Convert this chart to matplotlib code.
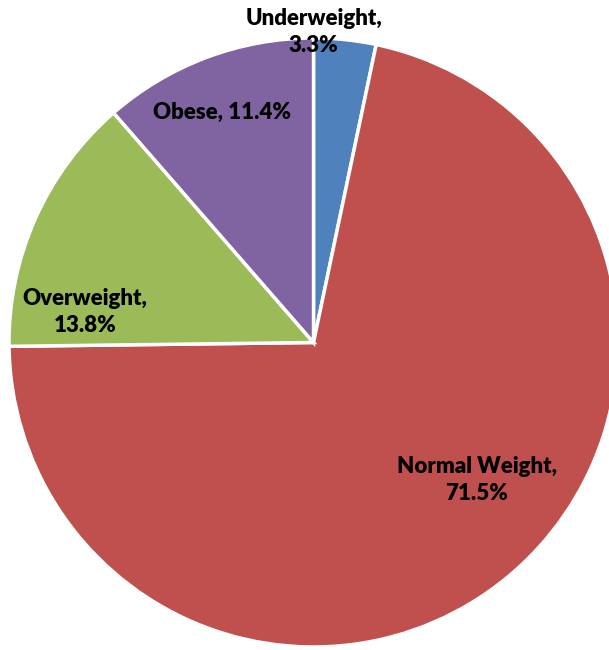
import numpy as np
import matplotlib
matplotlib.use("Agg")
import matplotlib.pyplot as plt

# BMI category shares (%)
categories = ["Underweight", "Normal Weight", "Overweight", "Obese"]
shares = [3.3, 71.5, 13.8, 11.4]
colors = ["#4F81BD", "#C0504D", "#9BBB59", "#8064A2"]

# label anchor points in units of the pie radius
label_pos = [(0.0, 1.02), (0.537, -0.452), (-0.75, 0.10), (-0.30, 0.757)]
label_text = ["Underweight,\n3.3%", "Normal Weight,\n71.5%", "Overweight,\n13.8%", "Obese, 11.4%"]

plt.rcParams['font.family'] = ['Lato', 'DejaVu Sans']

fig = plt.figure(figsize=(6.09, 6.5), dpi=100)
ax = fig.add_axes([0, 0, 1, 1])

ax.pie(shares, colors=colors, startangle=90, counterclock=False,
       radius=1.0, wedgeprops=dict(edgecolor="white", linewidth=2.5))

for (x, y), txt in zip(label_pos, label_text):
    ax.text(x, y, txt, ha="center", va="center", fontsize=16,
            fontweight="heavy", linespacing=1.35, color="black")

ax.set_aspect("auto")
ax.set_xlim(-1.0296, 0.9704)
ax.set_ylim(-1.0099, 1.1248)
ax.axis("off")

fig.savefig("out.png", dpi=100)
